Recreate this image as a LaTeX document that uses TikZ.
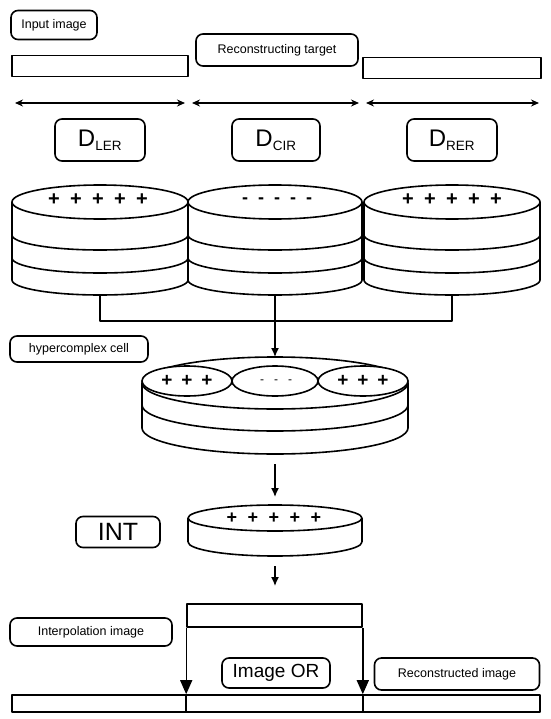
\documentclass[tikz,border=0pt]{standalone}
\usepackage{fontspec}
\setmainfont{Liberation Sans}
\usetikzlibrary{arrows.meta}
\begin{document}
\begin{tikzpicture}[x=1pt,y=-1pt,line width=1.6pt,line join=round,
  tag/.style={draw,rounded corners=7pt,inner sep=0pt,align=center,
    font=\fontsize{12.5}{13}\selectfont},
  bigtag/.style={tag,font=\fontsize{24}{26}\selectfont},
  strip/.style={draw,rectangle,inner sep=0pt},
  span/.style={{Stealth[length=8pt,width=7pt]}-{Stealth[length=8pt,width=7pt]},line width=1.4pt},
  flow/.style={-{Latex[length=9pt,width=8pt]},line width=1.4pt},
  drop/.style={-{Triangle[length=14pt,width=12pt]},line width=1.4pt},
  plus/.style={inner sep=0pt,font=\fontsize{20}{20}\selectfont\bfseries},
  minus/.style={inner sep=0pt,font=\fontsize{18}{18}\selectfont\bfseries}]
\useasboundingbox (0,0) rectangle (550,719);

% ---------- top row: input strip, target, arrows ----------
\node[tag,minimum width=86pt,minimum height=29pt] (input) at (54,25) {Input image};
\node[strip,minimum width=176pt,minimum height=21pt] (barL) at (100,66) {};
\node[tag,minimum width=162pt,minimum height=32pt] (target) at (277,50) {Reconstructing target};
\node[strip,minimum width=178pt,minimum height=21pt] (barR) at (452,68) {};

\coordinate (a1) at (15,103);  \coordinate (a2) at (185,103);
\coordinate (a3) at (192,103); \coordinate (a4) at (359,103);
\coordinate (a5) at (366,103); \coordinate (a6) at (539,103);
\draw[span] (a1) -- (a2);
\draw[span] (a3) -- (a4);
\draw[span] (a5) -- (a6);

% ---------- disparity labels ----------
\node[bigtag,minimum width=90pt,minimum height=42pt] (dler) at (100,140) {D\textsubscript{\fontsize{13.5}{13.5}\selectfont LER}};
\node[bigtag,minimum width=88pt,minimum height=42pt] (dcir) at (276,140) {D\textsubscript{\fontsize{13.5}{13.5}\selectfont CIR}};
\node[bigtag,minimum width=90pt,minimum height=42pt] (drer) at (452,140) {D\textsubscript{\fontsize{13.5}{13.5}\selectfont RER}};

% ---------- three stacked discs ----------
\foreach \cx/\rx/\nm in {100/88/L, 275/87/C, 452/88/R}{
  \draw[fill=white] (\cx,202) ellipse [x radius=\rx, y radius=17];
  \draw (\cx-\rx,202) -- (\cx-\rx,280);
  \draw (\cx+\rx,202) -- (\cx+\rx,280);
  \foreach \yy in {235,258,280}
    \draw (\cx-\rx,\yy) arc [start angle=180, end angle=0, x radius=\rx, y radius=15];
  \coordinate (disc\nm) at (\cx,295);
}
\foreach \i in {-2,...,2}{
  \node[plus] (pL\i) at (98+22*\i,200) {+};
  \node[minus] (mC\i) at (277+16*\i,201) {-};
  \node[plus] (pR\i) at (452+22*\i,200) {+};
}

% ---------- merge into the hypercomplex cell ----------
\coordinate (mergeL) at (100,321);
\coordinate (mergeR) at (452,321);
\draw (discL) -- (mergeL) -- (mergeR) -- (discR);

\node[tag,minimum width=138pt,minimum height=26pt] (hyper) at (79,349) {hypercomplex cell};

\coordinate (hyperTop) at (275,357);
\draw[flow] (discC) -- (hyperTop);

\draw (275,383) ellipse [x radius=133, y radius=26];
\draw (142,383) -- (142,428);
\draw (408,383) -- (408,428);
\foreach \yy in {405,428}
  \draw (142,\yy) arc [start angle=180, end angle=0, x radius=133, y radius=26];
\draw[fill=white] (187,381) ellipse [x radius=45, y radius=15];
\draw[fill=white] (275,381) ellipse [x radius=43, y radius=15];
\draw[fill=white] (363,381) ellipse [x radius=45, y radius=15];
\foreach \i in {-1,0,1}{
  \node[plus,font=\fontsize{19}{19}\selectfont\bfseries] (hL\i) at (187+20*\i,381) {+};
  \node[minus,font=\fontsize{12}{12}\selectfont] (hC\i) at (276+14*\i,382) {-};
  \node[plus,font=\fontsize{19}{19}\selectfont\bfseries] (hR\i) at (363+20*\i,381) {+};
}

\coordinate (hyperBot) at (275,464);
\coordinate (intTop) at (275,497);
\draw[flow] (hyperBot) -- (intTop);

% ---------- interpolation disc ----------
\node[bigtag,font=\fontsize{25}{27}\selectfont,minimum width=84pt,minimum height=31pt] (int) at (118,532) {INT};
\draw (275,518) ellipse [x radius=87, y radius=13];
\draw (188,518) -- (188,542);
\draw (362,518) -- (362,542);
\draw (188,542) arc [start angle=180, end angle=0, x radius=87, y radius=14];
\foreach \i in {-2,...,2}
  \node[plus,font=\fontsize{18}{18}\selectfont\bfseries] (pI\i) at (274+21*\i,518) {+};

\coordinate (intBot) at (275,566);
\coordinate (interpTop) at (275,586);
\draw[flow] (intBot) -- (interpTop);

% ---------- interpolation strip and reconstruction ----------
\node[strip,minimum width=175pt,minimum height=23pt] (interp) at (274.5,615.5) {};
\node[tag,minimum width=162pt,minimum height=28pt] (interpLbl) at (91,632) {Interpolation image};
\node[tag,font=\fontsize{19}{21}\selectfont,minimum width=108pt,minimum height=30pt] (imgor) at (276,673) {Image OR};
\node[tag,minimum width=165pt,minimum height=32pt] (recLbl) at (457,674) {Reconstructed image};

\node[strip,minimum width=528pt,minimum height=17pt] (out) at (276,703.5) {};
\draw[drop] (interp.south west) -- (interp.south west |- out.north);
\draw[drop] (interp.south east) -- (interp.south east |- out.north);
\draw (interp.south west |- out.north) -- (interp.south west |- out.south);
\draw (interp.south east |- out.north) -- (interp.south east |- out.south);
\end{tikzpicture}
\end{document}
